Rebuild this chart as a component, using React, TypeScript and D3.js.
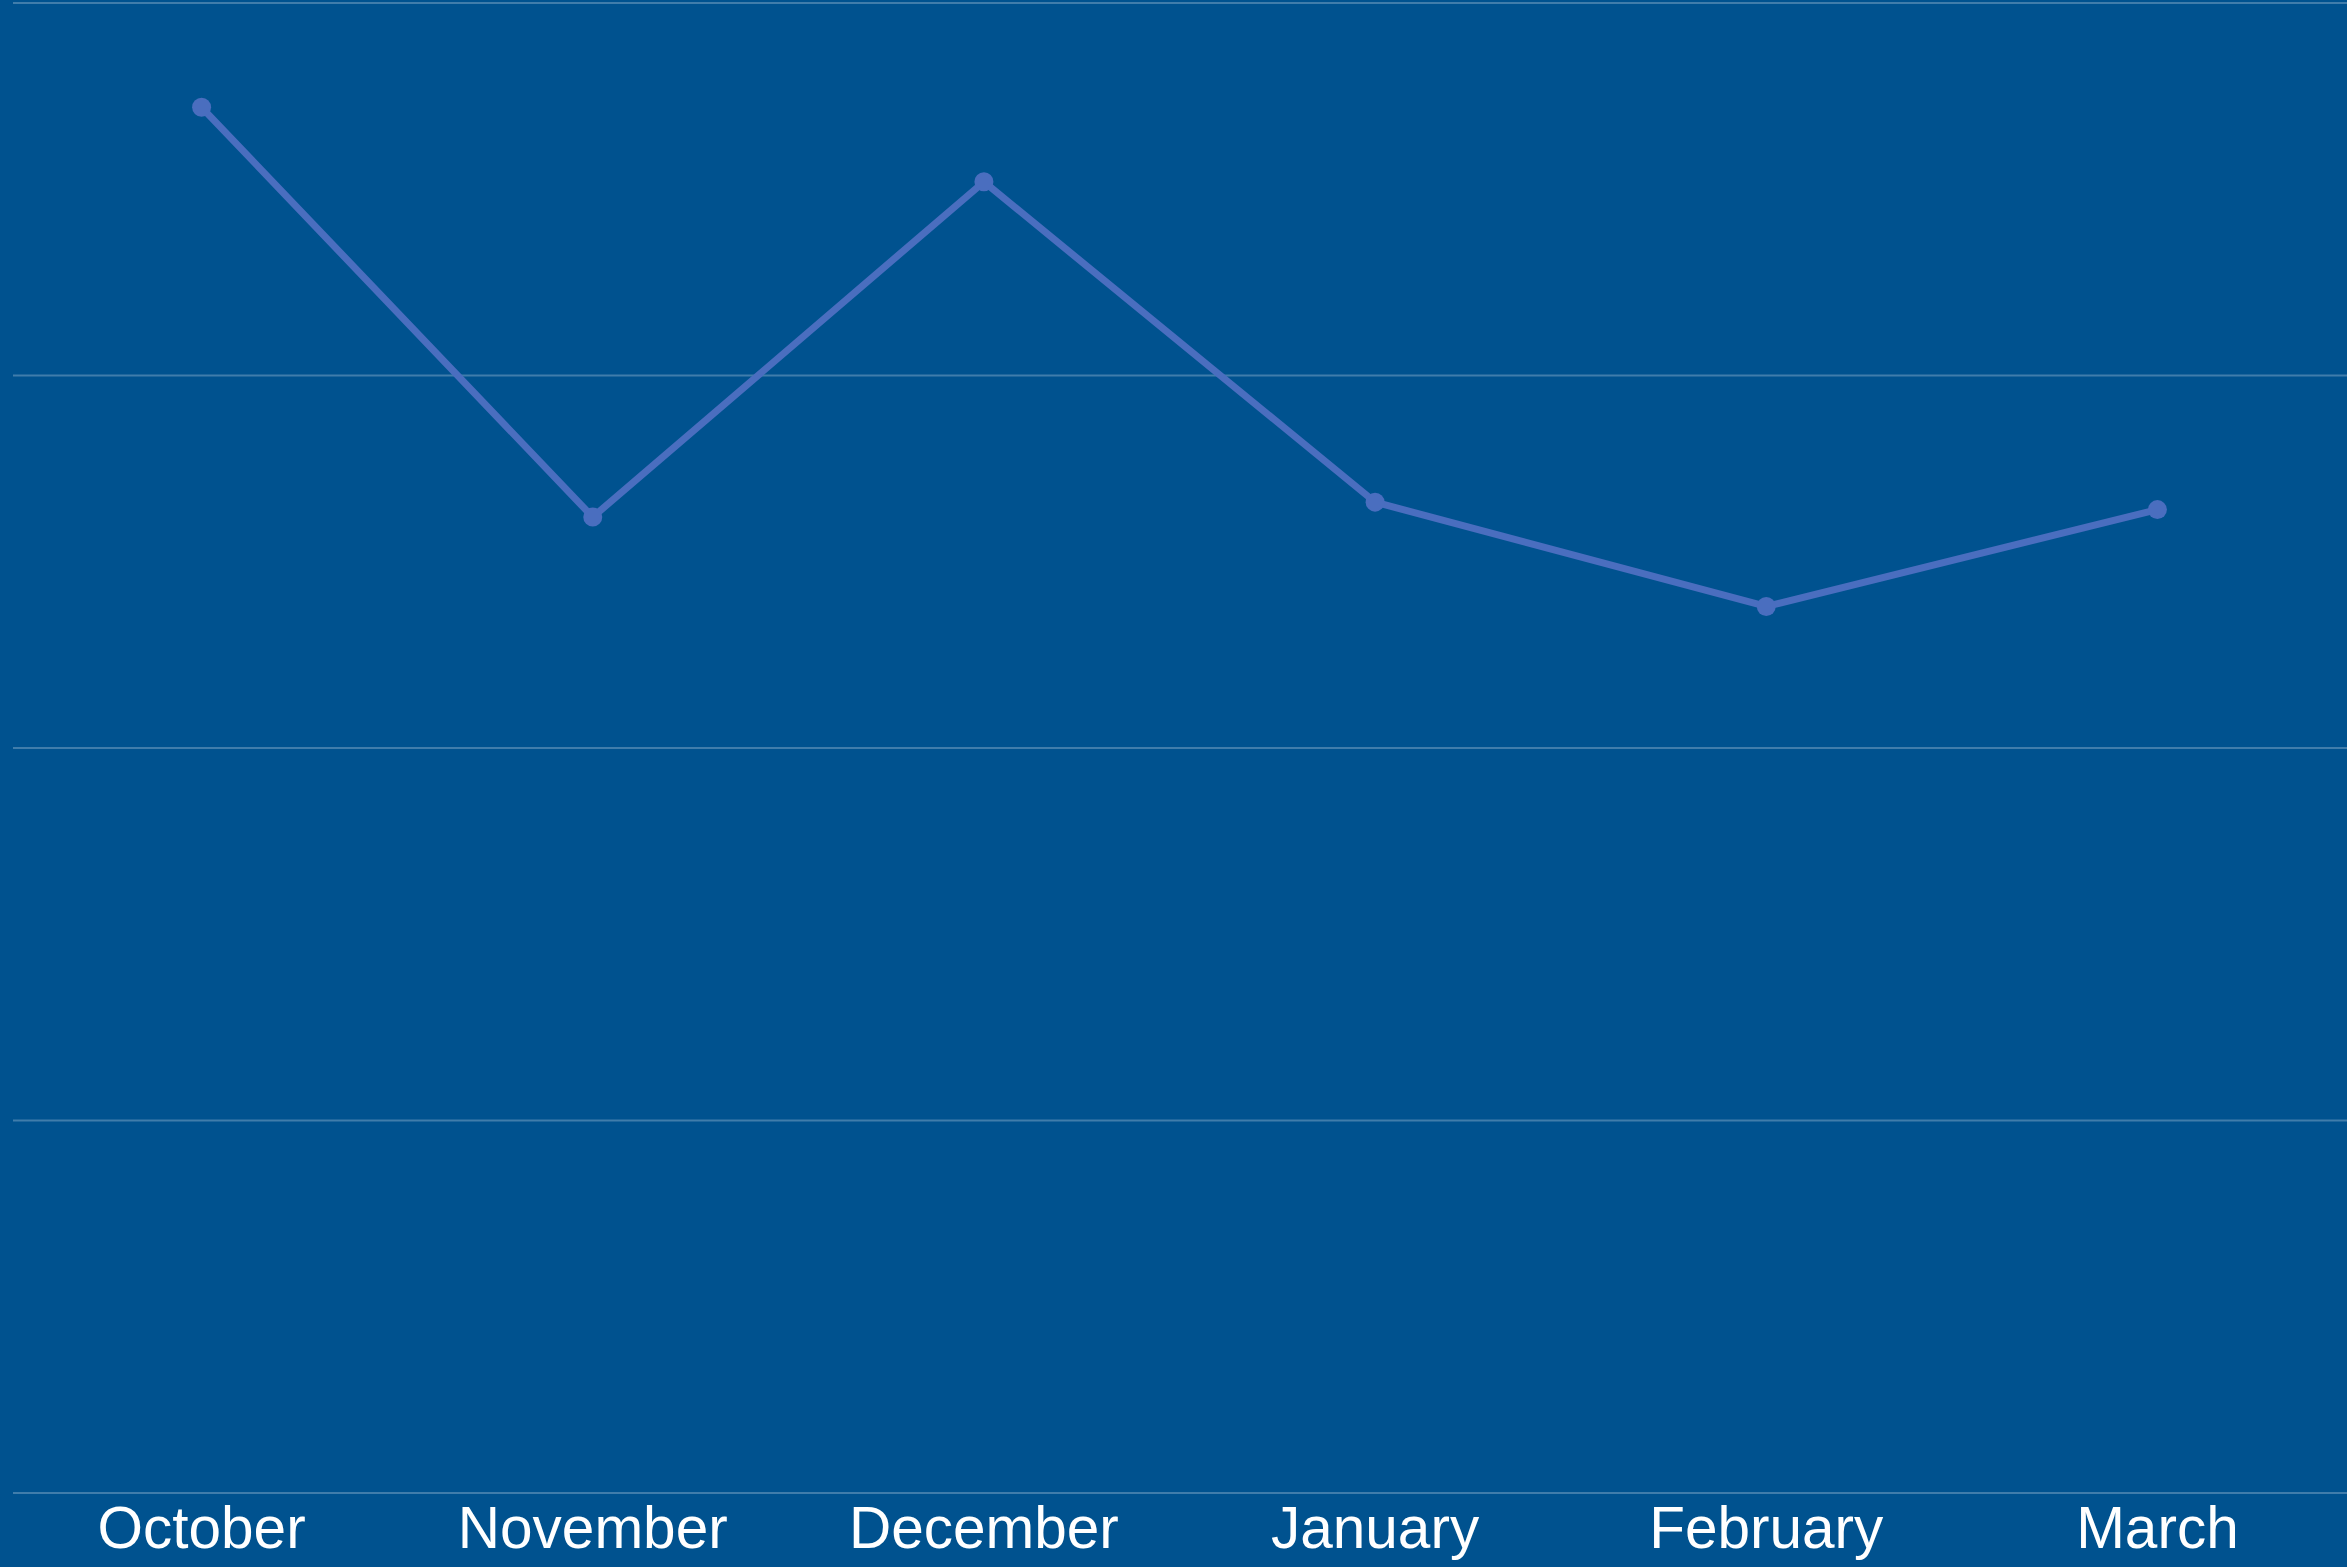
import { useEffect, useRef } from 'react'
import * as d3 from 'd3'

// ── data ─────────────────────────────────────────────────────────────────────
const months = ['October', 'November', 'December', 'January', 'February', 'March']
const values = [93, 65.5, 88, 66.5, 59.5, 66]
const yTicks = [0, 25, 50, 75, 100]

// ── constants ────────────────────────────────────────────────────────────────
const W     = 2347
const H     = 1567
const M     = { top: 3, right: -6, bottom: 74, left: 6 }
const BG    = '#00528f'
const CLINE = '#4a6ebf'
const CGRID = '#407dab'
const FONT  = '"Liberation Sans", Arial, sans-serif'

export default function App() {
  const ref = useRef<SVGSVGElement>(null)

  useEffect(() => {
    if (!ref.current) return
    const svg = d3.select(ref.current)
    svg.selectAll('*').remove()

    svg.append('rect').attr('width', W).attr('height', H).attr('fill', BG)

    const x = d3.scaleBand<string>()
      .domain(months)
      .range([M.left, W - M.right])
    const y = d3.scaleLinear().domain([0, 100]).range([H - M.bottom, M.top])

    // grid
    svg.append('g')
      .selectAll('line')
      .data(yTicks)
      .join('line')
        .attr('x1', 13).attr('x2', W)
        .attr('y1', v => y(v)).attr('y2', v => y(v))
        .attr('stroke', CGRID).attr('stroke-width', 2)

    // x labels
    svg.append('g')
      .selectAll('text')
      .data(months)
      .join('text')
        .attr('x', d => (x(d) ?? 0) + x.bandwidth() / 2)
        .attr('y', y(0) + 55)
        .attr('text-anchor', 'middle')
        .attr('fill', '#ffffff')
        .attr('font-family', FONT)
        .attr('font-size', 58.5)
        .text(d => d)

    const pts = months.map((m, i) => ({ m, v: values[i] }))
    const line = d3.line<{ m: string; v: number }>()
      .x(d => (x(d.m) ?? 0) + x.bandwidth() / 2)
      .y(d => y(d.v))

    svg.append('path').datum(pts)
      .attr('fill', 'none').attr('stroke', CLINE).attr('stroke-width', 7)
      .attr('stroke-linejoin', 'round')
      .attr('d', d => line(d) ?? '')

    svg.append('g')
      .selectAll('circle')
      .data(pts)
      .join('circle')
        .attr('cx', d => (x(d.m) ?? 0) + x.bandwidth() / 2)
        .attr('cy', d => y(d.v))
        .attr('r', 9.5)
        .attr('fill', CLINE)
  }, [])

  return (
    <div style={{ position: 'absolute', left: 0, top: 0, width: W, height: H, overflow: 'hidden' }}>
      <svg ref={ref} width={W} height={H} style={{ display: 'block' }} />
    </div>
  )
}
